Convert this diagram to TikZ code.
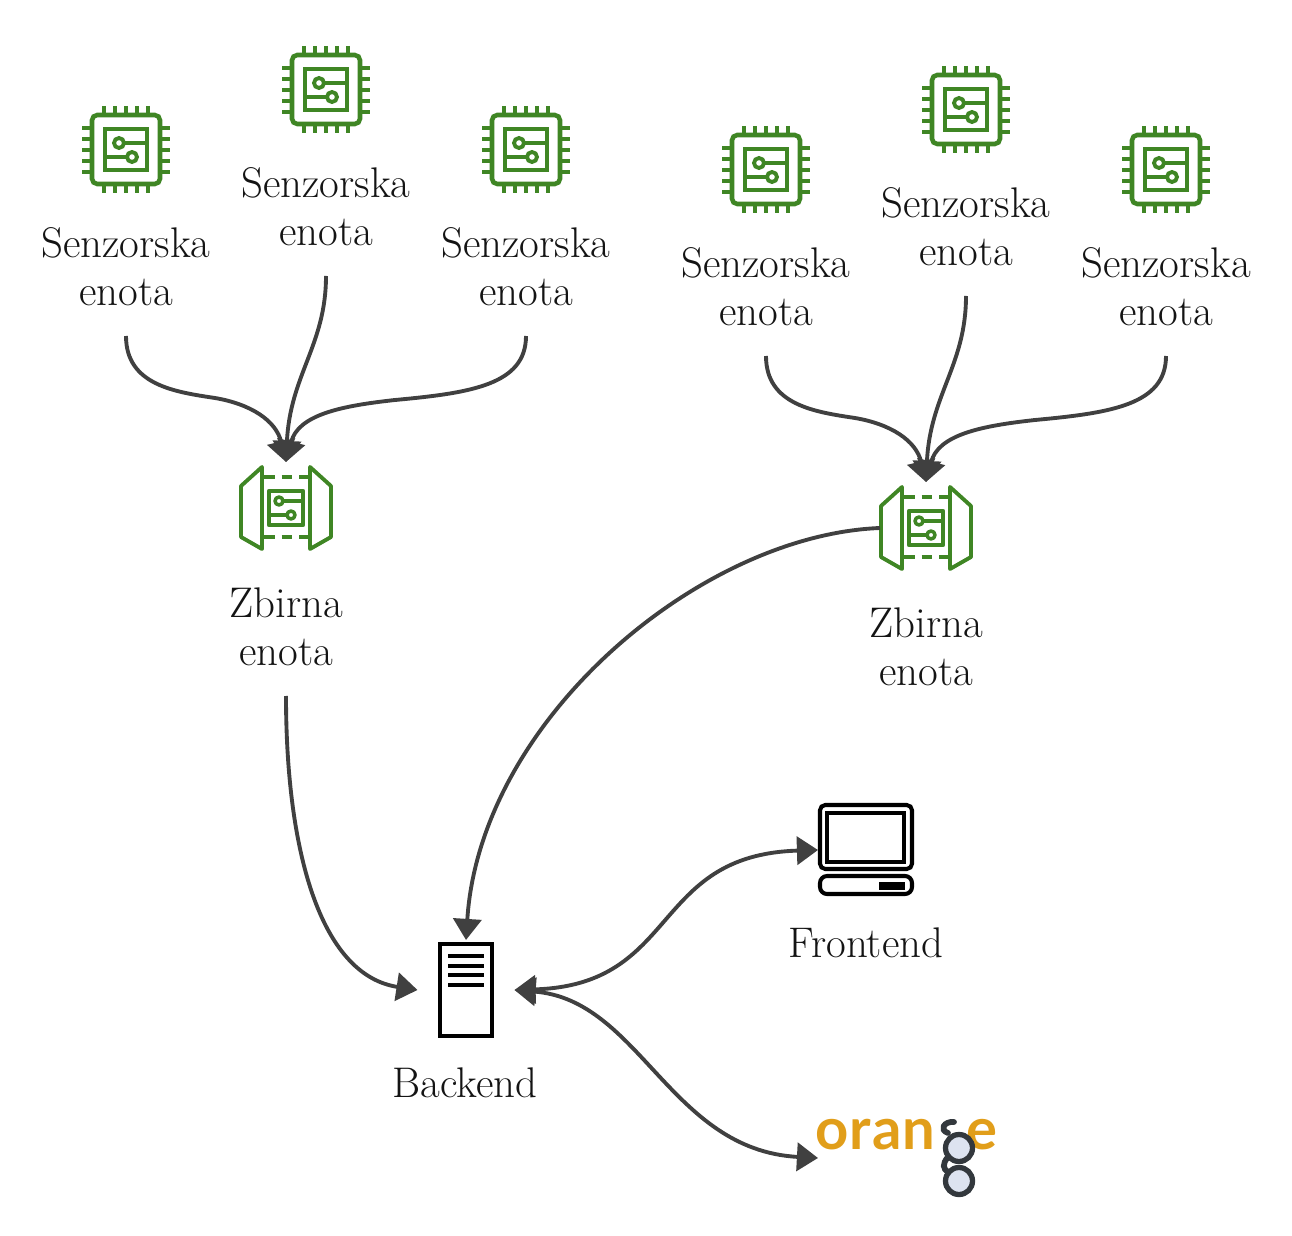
\documentclass[tikz,border=0pt]{standalone}
\usepackage{fontspec}
\newfontfamily\logofont[LetterSpace=2]{Lato}
\usetikzlibrary{arrows.meta}
\definecolor{chipgreen}{HTML}{3F8624}
\definecolor{linkgray}{HTML}{404040}
\definecolor{logoorange}{HTML}{E19E1A}
\definecolor{lensblue}{HTML}{DDE3F0}
\definecolor{framegray}{HTML}{33383D}
\tikzset{>={Triangle[length=12pt,width=16pt]}}
\tikzset{
    link/.style={->, line width=2.2pt, linkgray},
    lbl/.style={align=center, anchor=south, inner xsep=0pt, inner ysep=0.6cm, text=black!92,
        font=\fontsize{24.4}{27.3}\selectfont},
    anchorbox/.style={inner sep=0pt, outer sep=0pt},
    chip/.pic={
        \begin{scope}[chipgreen, line width=2.6pt]
        \draw[rounded corners=3pt] (-34,-35) rectangle (34,34);
        \draw[line width=2.5pt] (-21,-21) rectangle (21,20);
        \foreach \p in {-22,-11,0,11,22} {
            \draw[line width=2.4pt] (\p,-44) -- (\p,-35);
            \draw[line width=2.4pt] (\p,34) -- (\p,43);
            \draw[line width=2.4pt] (-44,\p) -- (-34,\p);
            \draw[line width=2.4pt] (34,\p) -- (44,\p);
        }
        \draw[line width=2.2pt] (-7,-7) circle [radius=5] (-2,-7) -- (21,-7);
        \draw[line width=2.2pt] (6,7) circle [radius=5] (1,7) -- (-21,7);
        \end{scope}
    },
    gather/.pic={
        \node[anchorbox, minimum width=92*0.02cm, minimum height=92*0.02cm] (-box) at (0,0) {};
        \begin{scope}[chipgreen, line width=2.2pt, line join=round]
        \draw (-24,-41) -- (-45,-22) -- (-45,29) -- (-24,41) -- cycle;
        \draw (24,-41) -- (45,-22) -- (45,29) -- (24,41) -- cycle;
        \draw[dashed, dash pattern=on 6pt off 4pt] (-22,-31) -- (24,-31);
        \draw[dashed, dash pattern=on 6pt off 4pt] (-22,29) -- (24,29);
        \draw[line width=2.5pt] (-17,-17) rectangle (17,17);
        \draw[line width=2pt] (-7,-7) circle [radius=4] (-3,-7) -- (17,-7);
        \draw[line width=2pt] (5,7) circle [radius=4] (1,7) -- (-17,7);
        \end{scope}
    },
    computer/.pic={
        \node[anchorbox, minimum width=96*0.02cm, minimum height=92*0.02cm] (-box) at (0,0) {};
        \begin{scope}[black, line width=2.3pt]
        \draw[rounded corners=3pt] (-46,-45) rectangle (46,19);
        \draw (-39,-37) rectangle (38,12);
        \draw[rounded corners=4pt] (-46,26) rectangle (46,44);
        \fill (13,32) rectangle (39,40);
        \end{scope}
    },
    server/.pic={
        \node[anchorbox, minimum width=97*0.02cm, minimum height=100*0.02cm] (-box) at (0,0) {};
        \begin{scope}[black, line width=2.3pt]
        \draw (-26,-46) rectangle (26,46);
        \foreach \p in {-34,-24,-15,-5}
            \draw[line width=2pt] (-18,\p) -- (18,\p);
        \end{scope}
    },
    orangelogo/.pic={
        \node[anchorbox, minimum width=178*0.02cm, minimum height=80*0.02cm] (-box) at (0,0) {};
        \node[anchor=base west, inner sep=0pt, text=logoorange, font=\logofont\bfseries\fontsize{33}{33}\selectfont]
            (-head) at (-92,-9) {oran};
        \node[anchor=base west, inner sep=0pt, text=logoorange, font=\logofont\bfseries\fontsize{33}{33}\selectfont]
            (-tail) at (59,-9) {e};
        \begin{scope}[framegray, line width=3pt, line cap=round]
        \draw[fill=lensblue] (52,-10) circle [radius=13.5];
        \draw[fill=lensblue] (52,23) circle [radius=13.5];
        \draw[line width=3.3pt] (47,-36) .. controls (37,-37) and (32,-28) .. (41,-25);
        \draw[line width=3.3pt] (41,-1) .. controls (35,6) and (36,11) .. (41,14);
        \end{scope}
    },
}

\begin{document}
\begin{tikzpicture}[x=0.02cm, y=-0.02cm]

    \useasboundingbox (0,0) rectangle (1292,1236);

    % sensor units
    \foreach \nm/\x/\y in {sa/126/150, sb/326/90, sc/526/150, sd/766/170, se/966/110, sf/1166/170} {
        \pic (\nm) at (\x,\y) {chip};
        \node[lbl] (\nm-lbl) at (\x,\y+186) {Senzorska\\enota};
    }

    % gathering units
    \pic (za) at (286,508) {gather};
    \pic (zb) at (926,528) {gather};
    \node[lbl] (za-lbl) at (286,696) {Zbirna\\enota};
    \node[lbl] (zb-lbl) at (926,716) {Zbirna\\enota};

    \pic (back) at (466,990) {server};
    \pic (front) at (866,850) {computer};
    \pic (orange) at (907,1158) {orangelogo};
    \node[lbl] (back-lbl) at (465,1128) {Backend};
    \node[lbl] (front-lbl) at (866,988) {Frontend};

    % left group
    \draw[link] (sa-lbl.south) .. controls (126,385) and (175,392) .. (215,398)
        .. controls (250,404) and (276,420) .. (za-box.north);
    \draw[link] (sb-lbl.south) .. controls (326,345) and (290,375) .. (za-box.north);
    \draw[link] (sc-lbl.south) .. controls (526,385) and (470,393) .. (395,400)
        .. controls (340,406) and (298,415) .. (za-box.north);

    % right group
    \draw[link] (sd-lbl.south) .. controls (766,405) and (815,412) .. (855,418)
        .. controls (890,424) and (916,440) .. (zb-box.north);
    \draw[link] (se-lbl.south) .. controls (966,365) and (930,395) .. (zb-box.north);
    \draw[link] (sf-lbl.south) .. controls (1166,405) and (1110,413) .. (1035,420)
        .. controls (980,426) and (938,435) .. (zb-box.north);

    \draw[link] (za-lbl.south) .. controls (286,850) and (320,975) .. (back-box.west);
    \draw[link] (zb-box.west) .. controls (700,535) and (480,720) .. (back-box.north);

    \draw[link, <->] (back-box.east) .. controls (680,985) and (650,855) .. (front-box.west);
    \draw[link, <->] (back-box.east) .. controls (640,1000) and (670,1150) .. (orange-box.west);

\end{tikzpicture}
\end{document}
